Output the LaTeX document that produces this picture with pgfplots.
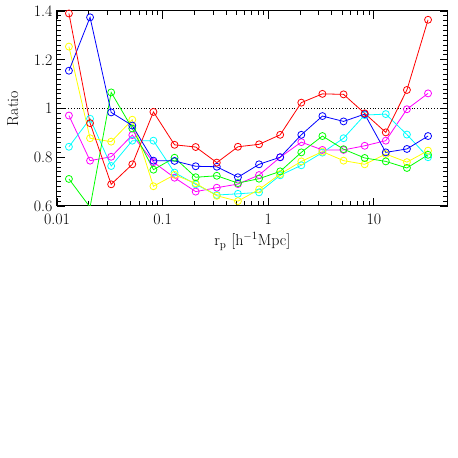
\documentclass[border=0pt]{standalone}
\usepackage{pgfplots}
\pgfplotsset{compat=1.18}
\definecolor{cR}{RGB}{255,0,0}
\definecolor{cB}{RGB}{0,0,255}
\definecolor{cG}{RGB}{0,255,0}
\definecolor{cY}{RGB}{255,255,0}
\definecolor{cC}{RGB}{0,255,255}
\definecolor{cM}{RGB}{255,0,255}

% ratio per r_p bin, one column per model
\pgfplotstableread{
x       red    blue   green  yellow cyan   magenta
0.01297 1.390  1.155  0.711  1.254  0.843  0.971
0.02056 0.940  1.374  0.595  0.878  0.958  0.786
0.03258 0.689  0.984  1.066  0.864  0.764  0.802
0.05164 0.771  0.930  0.918  0.954  0.868  0.891
0.08185 0.986  0.786  0.749  0.681  0.868  0.780
0.1297  0.851  0.785  0.798  0.728  0.737  0.716
0.2056  0.842  0.763  0.718  0.693  0.689  0.659
0.3258  0.778  0.761  0.724  0.642  0.645  0.675
0.5164  0.843  0.718  0.694  0.620  0.650  0.690
0.8185  0.853  0.771  0.712  0.668  0.656  0.727
1.297   0.892  0.800  0.742  0.731  0.726  0.800
2.056   1.024  0.892  0.820  0.783  0.767  0.862
3.258   1.060  0.969  0.887  0.823  0.819  0.830
5.164   1.058  0.947  0.833  0.786  0.878  0.830
8.185   0.980  0.977  0.797  0.771  0.973  0.847
12.97   0.902  0.820  0.783  0.813  0.977  0.868
20.56   1.076  0.834  0.756  0.780  0.893  0.997
32.58   1.364  0.887  0.810  0.827  0.800  1.062
}\ratios

\begin{document}
\begin{tikzpicture}
\useasboundingbox (0,0) rectangle (458bp,458bp);
\begin{axis}[
  at={(57bp,252bp)}, anchor=south west,
  scale only axis, width=390.7bp, height=195bp,
  xmode=log, xmin=0.01, xmax=50,
  ymin=0.6, ymax=1.4,
  xtick={0.01,0.1,1,10}, xticklabels={0.01,0.1,1,10},
  ytick={0.6,0.8,1,1.2,1.4}, yticklabels={0.6,0.8,1,1.2,1.4},
  minor y tick num=9,
  tick align=inside,
  major tick length=8bp, minor tick length=4.5bp,
  tick style={black, line width=0.8bp},
  axis line style={line width=1bp},
  ticklabel style={font=\fontsize{16}{18}\selectfont},
  xticklabel style={yshift=-4bp},
  yticklabel style={xshift=-1bp},
  label style={font=\fontsize{16}{18}\selectfont},
  xlabel={r\textsubscript{p} [h\textsuperscript{$-$1}Mpc]},
  ylabel={Ratio},
  xlabel style={at={(axis description cs:0.5,-0.18)}, anchor=center},
  ylabel style={at={(axis description cs:-0.113,0.5)}, anchor=center},
  every axis plot/.append style={line width=0.8bp, mark=o, mark size=3.5bp},
]
  \addplot[black, dotted, mark=none, line width=0.7bp] coordinates {(0.01,1) (50,1)};
  \addplot[cM] table[x=x, y=magenta] {\ratios};
  \addplot[cC] table[x=x, y=cyan]    {\ratios};
  \addplot[cY] table[x=x, y=yellow]  {\ratios};
  \addplot[cG] table[x=x, y=green]   {\ratios};
  \addplot[cB] table[x=x, y=blue]    {\ratios};
  \addplot[cR] table[x=x, y=red]     {\ratios};
\end{axis}
\end{tikzpicture}
\end{document}
